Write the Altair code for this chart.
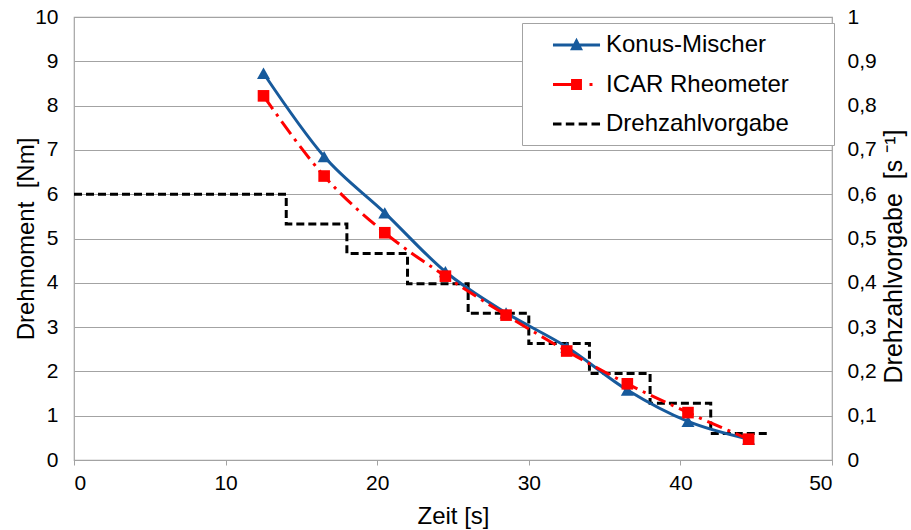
import altair as alt
import pandas as pd

# ---- data ----
zeit = [12.5, 16.5, 20.5, 24.5, 28.5, 32.5, 36.5, 40.5, 44.5]
konus = [8.73, 6.85, 5.58, 4.25, 3.32, 2.55, 1.58, 0.87, 0.47]
icar = [8.22, 6.41, 5.13, 4.15, 3.27, 2.46, 1.72, 1.07, 0.47]
step_zeit = [0, 14, 18, 22, 26, 30, 34, 38, 42, 45.7]
step_drehzahl = [0.6, 0.533, 0.466, 0.398, 0.331, 0.263, 0.195, 0.128, 0.06, 0.06]
series = ["Konus-Mischer", "ICAR Rheometer", "Drehzahlvorgabe"]
colors = ["#175A9C", "#FF0000", "#000000"]
x_ticks = [0, 10, 20, 30, 40, 50]
y_ticks = [0, 1, 2, 3, 4, 5, 6, 7, 8, 9, 10]
y2_ticks = [0, 0.1, 0.2, 0.3, 0.4, 0.5, 0.6, 0.7, 0.8, 0.9, 1]

# legend symbols (line + marker) as custom paths
legend_paths = [
    "M-1.81,-0.115L1.81,-0.115L1.81,0.115L-1.81,0.115Z M0,-0.55L0.5,0.4L-0.5,0.4Z",
    "M-1.81,-0.115L-0.42,-0.115L-0.42,0.115L-1.81,0.115Z M-0.42,-0.42L0.42,-0.42L0.42,0.42L-0.42,0.42Z "
    "M1.0,-0.115L1.23,-0.115L1.23,0.115L1.0,0.115Z",
    "M-1.81,-0.115L-1.155,-0.115L-1.155,0.115L-1.81,0.115Z M-0.822,-0.115L-0.167,-0.115L-0.167,0.115L-0.822,0.115Z "
    "M0.166,-0.115L0.821,-0.115L0.821,0.115L0.166,0.115Z M1.154,-0.115L1.81,-0.115L1.81,0.115L1.154,0.115Z",
]

konus_df = pd.DataFrame({"zeit": zeit, "drehmoment": konus})
icar_df = pd.DataFrame({"zeit": zeit, "drehmoment": icar})
step_df = pd.DataFrame({"zeit": step_zeit, "drehzahl": step_drehzahl})
legend_df = pd.DataFrame({"series": series})

FONT = "Liberation Sans"
GRID = "#A3A3A3"

x_enc = alt.X(
    "zeit:Q",
    scale=alt.Scale(domain=[0, 50], nice=False),
    axis=alt.Axis(
        values=x_ticks, title="Zeit [s]", grid=False, domain=False,
        tickColor=GRID, tickSize=5, labelFontSize=21, labelPadding=7,
        titleFontSize=24, titleY=56, titleBaseline="middle",
    ),
)
y_enc = alt.Y(
    "drehmoment:Q",
    scale=alt.Scale(domain=[0, 10], nice=False),
    axis=alt.Axis(
        orient="left", values=y_ticks, format="d", title="Drehmoment\u00a0 [Nm]",
        grid=True, gridColor=GRID, gridWidth=1.2, domain=False, ticks=False,
        labelFontSize=21, labelPadding=16, titleFontSize=24,
        titleX=-48, titleY=221.5, titleBaseline="middle", titleAngle=270,
    ),
)
y2_enc = alt.Y(
    "drehzahl:Q",
    scale=alt.Scale(domain=[0, 1], nice=False),
    axis=alt.Axis(
        orient="right", values=y2_ticks, grid=False, domain=False, ticks=False,
        labelExpr="replace(format(datum.value, '.1~f'), '.', ',')",
        labelFontSize=21, labelPadding=15, title="Drehzahlvorgabe\u00a0 [s \u207b\u00b9]",
        titleFontSize=25, titleX=61, titleY=239, titleBaseline="middle", titleAngle=270,
    ),
)

step = alt.Chart(step_df).mark_line(
    interpolate="step-after", color="black", strokeWidth=3, strokeDash=[8, 4]
).encode(x=x_enc, y=y2_enc)

konus_line = alt.Chart(konus_df).mark_line(
    interpolate="monotone", color=colors[0], strokeWidth=3
).encode(x=x_enc, y=y_enc)
konus_pts = alt.Chart(konus_df).mark_point(
    shape="triangle-up", filled=True, size=170, color=colors[0], opacity=1
).encode(x=x_enc, y=y_enc)
icar_line = alt.Chart(icar_df).mark_line(
    interpolate="monotone", color=colors[1], strokeWidth=3, strokeDash=[16, 6, 3, 6]
).encode(x=x_enc, y=y_enc)
icar_pts = alt.Chart(icar_df).mark_point(
    shape="square", filled=True, size=135, color=colors[1], opacity=1
).encode(x=x_enc, y=y_enc)

leg = alt.Legend(
    title=None, orient="none", legendX=448, legendY=6, direction="vertical",
    strokeColor=GRID, fillColor="white", padding=9, symbolOffset=32.5,
    symbolSize=676, symbolStrokeWidth=0, symbolOpacity=1,
    labelFont=FONT, labelFontSize=24, labelOffset=16.5, labelLimit=400,
    rowPadding=14.5, labelExpr="datum.label + '\u2800\u2800'",
)
legend_layer = alt.Chart(legend_df).mark_point(filled=True, opacity=0).encode(
    color=alt.Color("series:N", scale=alt.Scale(domain=series, range=colors), legend=leg),
    shape=alt.Shape("series:N", scale=alt.Scale(domain=series, range=legend_paths), legend=leg),
)

left = alt.layer(konus_line, konus_pts, icar_line, icar_pts)
chart = (
    alt.layer(step, left, legend_layer)
    .resolve_scale(y="independent")
    .properties(
        width=758, height=443,
        autosize=alt.AutoSizeParams(type="none"),
        padding={"left": 74, "top": 17, "right": 79, "bottom": 70},
        background="white",
    )
    .configure_view(stroke=GRID, strokeWidth=1.2)
    .configure_axis(labelFont=FONT, titleFont=FONT, labelColor="black",
                    titleColor="black", titleFontWeight="normal")
)

chart.save("out.html", embed_options={"renderer": "svg", "actions": False})
